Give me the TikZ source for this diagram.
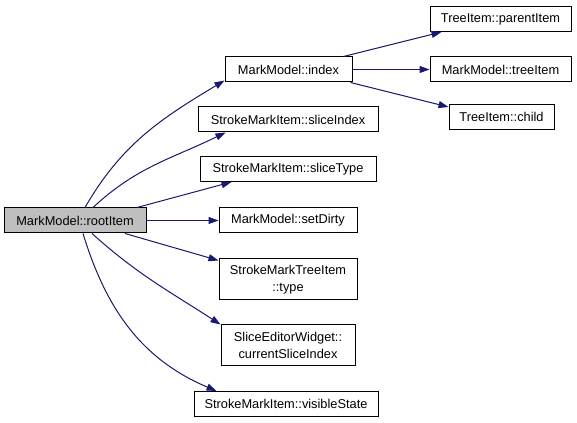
\documentclass[tikz,border=0pt]{standalone}
\usepackage{fontspec}
\setmainfont{Liberation Sans}
\usepackage{tikz}
\usetikzlibrary{arrows.meta}

\definecolor{callblue}{HTML}{191970}
\definecolor{rootgray}{HTML}{BFBFBF}

\begin{document}
\begin{tikzpicture}[x=0.75pt,y=-0.75pt,
		fn/.style={draw=black, line width=0.75pt, fill=white, inner sep=0pt,
			minimum height=18.75pt, align=center,
			font=\fontsize{9.6}{12.75}\selectfont},
		call/.style={->, >={Triangle[length=7.5pt,width=5.25pt]}, draw=callblue, line width=0.75pt}]
			\fill[white] (0,0) rectangle (577,423);
			\useasboundingbox (0,0) rectangle (577,423);

			\node[fn, fill=rootgray, minimum width=106.5pt] (root) at (75,220.5) {MarkModel::rootItem};

			% callees of rootItem
			\node[fn, minimum width=95.25pt] (index) at (288.5,69.5) {MarkModel::index};
			\node[fn, minimum width=135pt] (sliceidx) at (288,119.5) {StrokeMarkItem::sliceIndex};
			\node[fn, minimum width=132pt] (slicetype) at (288,169) {StrokeMarkItem::sliceType};
			\node[fn, minimum width=103.5pt] (dirty) at (288,220.5) {MarkModel::setDirty};
			\node[fn, minimum width=103.5pt, minimum height=30.75pt] (type) at (288,279.5) {StrokeMarkTreeItem\\::type};
			\node[fn, minimum width=100.5pt, minimum height=30pt] (editor) at (288,345) {SliceEditorWidget::\\currentSliceIndex};
			\node[fn, minimum width=138pt] (visible) at (286,404) {StrokeMarkItem::visibleState};

			% callees of index
			\node[fn, minimum width=105.75pt] (parent) at (500.5,19) {TreeItem::parentItem};
			\node[fn, minimum width=105.75pt] (tree) at (500.5,69.5) {MarkModel::treeItem};
			\node[fn, minimum width=78.75pt] (child) at (501.5,117) {TreeItem::child};

			\draw[call] ([xshift=7.5pt]root.north) to[out=60,in=211] ([yshift=1.5pt]index.south west);
			\draw[call] ([xshift=13.5pt]root.north) to[out=43,in=206] ([xshift=21pt]sliceidx.south west);
			\draw[call] ([xshift=46.5pt]root.north) -- ([xshift=24pt]slicetype.south west);
			\draw[call] (root.east) -- (dirty.west);
			\draw[call] ([xshift=37.5pt]root.south) -- ([yshift=-1.5pt]type.north west);
			\draw[call] ([xshift=12.75pt]root.south) to[out=-42,in=147] (editor.north west);
			\draw[call] ([xshift=6pt]root.south) to[out=-73,in=157] ([xshift=17.25pt]visible.north west);

			\draw[call] ([xshift=-6.75pt]index.north east) -- ([xshift=9pt]parent.south west);
			\draw[call] (index.east) -- (tree.west);
			\draw[call] ([xshift=-1.5pt]index.south east) -- ([yshift=-2.25pt]child.north west);
		\end{tikzpicture}
\end{document}
